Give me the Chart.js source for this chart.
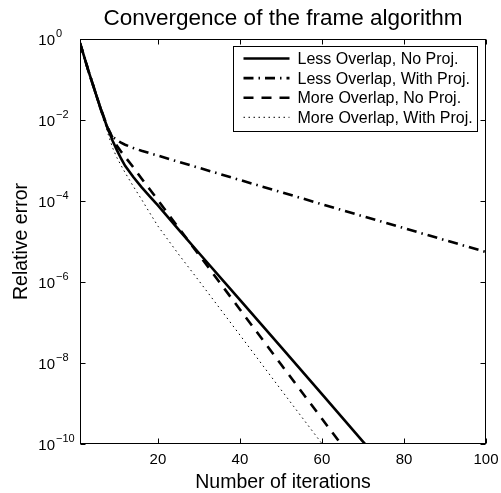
<!DOCTYPE html>
<html>
<head>
<meta charset="utf-8">
<title>Convergence of the frame algorithm</title>
<script src="https://cdn.jsdelivr.net/npm/chart.js@4.4.0/dist/chart.umd.min.js"></script>
<style>
    html, body { margin: 0; padding: 0; background: #fff; }
    canvas { display: block; }
</style>
</head>
<body>
<canvas id="convergenceChart" width="501" height="493"></canvas>
<script>
// Iteration numbers at which the relative error was sampled
const iterations = [1, 2, 3, 4, 5, 6, 7, 8, 9, 10, 11, 12, 14, 16, 18, 20, 25, 30, 40, 50, 60, 70, 80, 90, 100];

// Relative error per run
const lessOverlapNoProj = [0.79, 0.37, 0.17, 0.083, 0.040, 0.0195, 0.010, 0.0054, 0.0030, 0.0018, 0.00112, 7.4e-4,
    3.9e-4, 2.2e-4, 1.3e-4, 7.8e-5, 2.0e-5, 5.2e-6, 3.6e-7, 2.5e-8, 1.7e-9, 1.15e-10, 7.9e-12, 5.4e-13, 3.6e-14];
const lessOverlapWithProj = [0.79, 0.37, 0.17, 0.083, 0.040, 0.0195, 0.0095, 0.0054, 0.0038, 0.0032, 0.00275, 0.00245,
    0.00204, 0.00174, 0.00151, 0.00132, 9.3e-4, 6.6e-4, 3.3e-4, 1.66e-4, 8.3e-5, 4.2e-5, 2.14e-5, 1.08e-5, 5.5e-6];
const moreOverlapNoProj = [0.79, 0.37, 0.17, 0.083, 0.040, 0.020, 0.0105, 0.0058, 0.0035, 0.0023, 0.00166, 0.00123,
    6.8e-4, 3.6e-4, 1.95e-4, 1.05e-4, 2.2e-5, 4.7e-6, 2.1e-7, 9.3e-9, 4.2e-10, 1.9e-11, 8.3e-13, 3.7e-14, 1.7e-15];
const moreOverlapWithProj = [0.79, 0.37, 0.17, 0.083, 0.040, 0.019, 0.0089, 0.0040, 0.0020, 0.00117, 7.6e-4, 5.0e-4,
    2.3e-4, 1.1e-4, 5.1e-5, 2.4e-5, 4.9e-6, 1.07e-6, 4.9e-8, 2.2e-9, 1.02e-10, 4.7e-12, 2.1e-13, 9.8e-15, 4.5e-16];

const seriesLabels = ['Less Overlap, No Proj.', 'Less Overlap, With Proj.', 'More Overlap, No Proj.', 'More Overlap, With Proj.'];

// Axis ticks
const xTickValues = [20, 40, 60, 80, 100];
const yTickValues = [1, 1e-2, 1e-4, 1e-6, 1e-8, 1e-10];
const yTickExponents = ['0', '\u22122', '\u22124', '\u22126', '\u22128', '\u221210'];

const FONT = '"Liberation Sans", Arial, Helvetica, sans-serif';

function toPoints(values) {
    return values.map((v, i) => ({ x: iterations[i], y: v }));
}

// line styles: solid, dash-dot, dashed, dotted
const lineStyles = [
    { width: 2.6, dash: [] },
    { width: 2.6, dash: [10, 5, 1.5, 5] },
    { width: 2.6, dash: [10, 8] },
    { width: 1, dash: [1.5, 3.5] }
];

// Draws the boxed axes, inner ticks, labels and legend
const matlabAxes = {
    id: 'matlabAxes',
    afterDatasetsDraw(chart) {
        const { ctx, chartArea: a, scales: { x, y } } = chart;
        const left = Math.round(a.left) + 0.5;
        const right = Math.round(a.right) - 0.5;
        const top = Math.round(a.top) + 0.5;
        const bottom = Math.round(a.bottom) - 0.5;
        const tick = 5;

        ctx.save();
        ctx.strokeStyle = '#000';
        ctx.fillStyle = '#000';
        ctx.lineWidth = 1;
        ctx.setLineDash([]);
        ctx.strokeRect(left, top, right - left, bottom - top);

        // ticks on all four sides
        ctx.beginPath();
        xTickValues.forEach(v => {
            const px = Math.round(x.getPixelForValue(v)) + 0.5;
            ctx.moveTo(px, bottom); ctx.lineTo(px, bottom - tick);
            ctx.moveTo(px, top); ctx.lineTo(px, top + tick);
        });
        yTickValues.forEach(v => {
            const py = Math.round(y.getPixelForValue(v)) + 0.5;
            ctx.moveTo(left, py); ctx.lineTo(left + tick, py);
            ctx.moveTo(right, py); ctx.lineTo(right - tick, py);
        });
        ctx.stroke();

        // x tick labels
        ctx.font = '15px ' + FONT;
        ctx.textAlign = 'center';
        ctx.textBaseline = 'alphabetic';
        xTickValues.forEach(v => {
            ctx.fillText(String(v), x.getPixelForValue(v), a.bottom + 20);
        });

        // y tick labels as powers of ten
        yTickValues.forEach((v, i) => {
            const py = y.getPixelForValue(v);
            ctx.font = '15px ' + FONT;
            ctx.textAlign = 'right';
            ctx.fillText('10', a.left - 25, py + 6);
            ctx.font = '11px ' + FONT;
            ctx.textAlign = 'left';
            ctx.fillText(yTickExponents[i], a.left - 24, py - 2);
        });

        // title and axis labels
        const midX = (a.left + a.right) / 2;
        ctx.textAlign = 'center';
        ctx.font = '22.5px ' + FONT;
        ctx.fillText('Convergence of the frame algorithm', midX, 25);
        ctx.font = '19.5px ' + FONT;
        ctx.fillText('Number of iterations', midX, a.bottom + 44);
        ctx.save();
        ctx.translate(27, (a.top + a.bottom) / 2);
        ctx.rotate(-Math.PI / 2);
        ctx.fillText('Relative error', 0, 0);
        ctx.restore();

        // legend box in the upper right corner
        ctx.font = '16px ' + FONT;
        const textW = Math.max(...seriesLabels.map(t => ctx.measureText(t).width));
        const sample = 46;
        const boxRight = Math.round(a.right) - 8.5;
        const boxLeft = Math.round(boxRight - (10 + sample + 8 + textW + 5)) + 0.5;
        const boxTop = Math.round(a.top) + 7.5;
        const rowH = 19.6;
        const boxBottom = Math.round(boxTop + 4 * rowH + 6) + 0.5;
        ctx.fillStyle = '#fff';
        ctx.fillRect(boxLeft, boxTop, boxRight - boxLeft, boxBottom - boxTop);
        ctx.strokeRect(boxLeft, boxTop, boxRight - boxLeft, boxBottom - boxTop);
        ctx.fillStyle = '#000';
        ctx.textAlign = 'left';
        ctx.textBaseline = 'middle';
        seriesLabels.forEach((label, i) => {
            const ry = boxTop + 12 + i * rowH;
            const st = lineStyles[i];
            ctx.lineWidth = st.width;
            ctx.setLineDash(st.dash);
            ctx.beginPath();
            ctx.moveTo(boxLeft + 10, ry);
            ctx.lineTo(boxLeft + 10 + sample, ry);
            ctx.stroke();
            ctx.fillText(label, boxLeft + 10 + sample + 8, ry + 1);
        });
        ctx.restore();
    }
};

const seriesValues = [lessOverlapNoProj, lessOverlapWithProj, moreOverlapNoProj, moreOverlapWithProj];

const chart = new Chart(document.getElementById('convergenceChart'), {
    type: 'line',
    data: {
        datasets: seriesValues.map((values, i) => ({
            label: seriesLabels[i],
            data: toPoints(values),
            borderColor: '#000',
            borderWidth: lineStyles[i].width,
            borderDash: lineStyles[i].dash,
            pointRadius: 0,
            tension: 0,
            fill: false,
            clip: 0
        }))
    },
    options: {
        responsive: false,
        animation: false,
        layout: { padding: { left: 80, right: 15, top: 39, bottom: 49 } },
        scales: {
            x: { type: 'linear', min: 1, max: 100, display: false },
            y: { type: 'logarithmic', min: 1e-10, max: 1, display: false }
        },
        plugins: {
            legend: { display: false },
            tooltip: { enabled: false }
        }
    },
    plugins: [matlabAxes]
});
</script>
</body>
</html>
